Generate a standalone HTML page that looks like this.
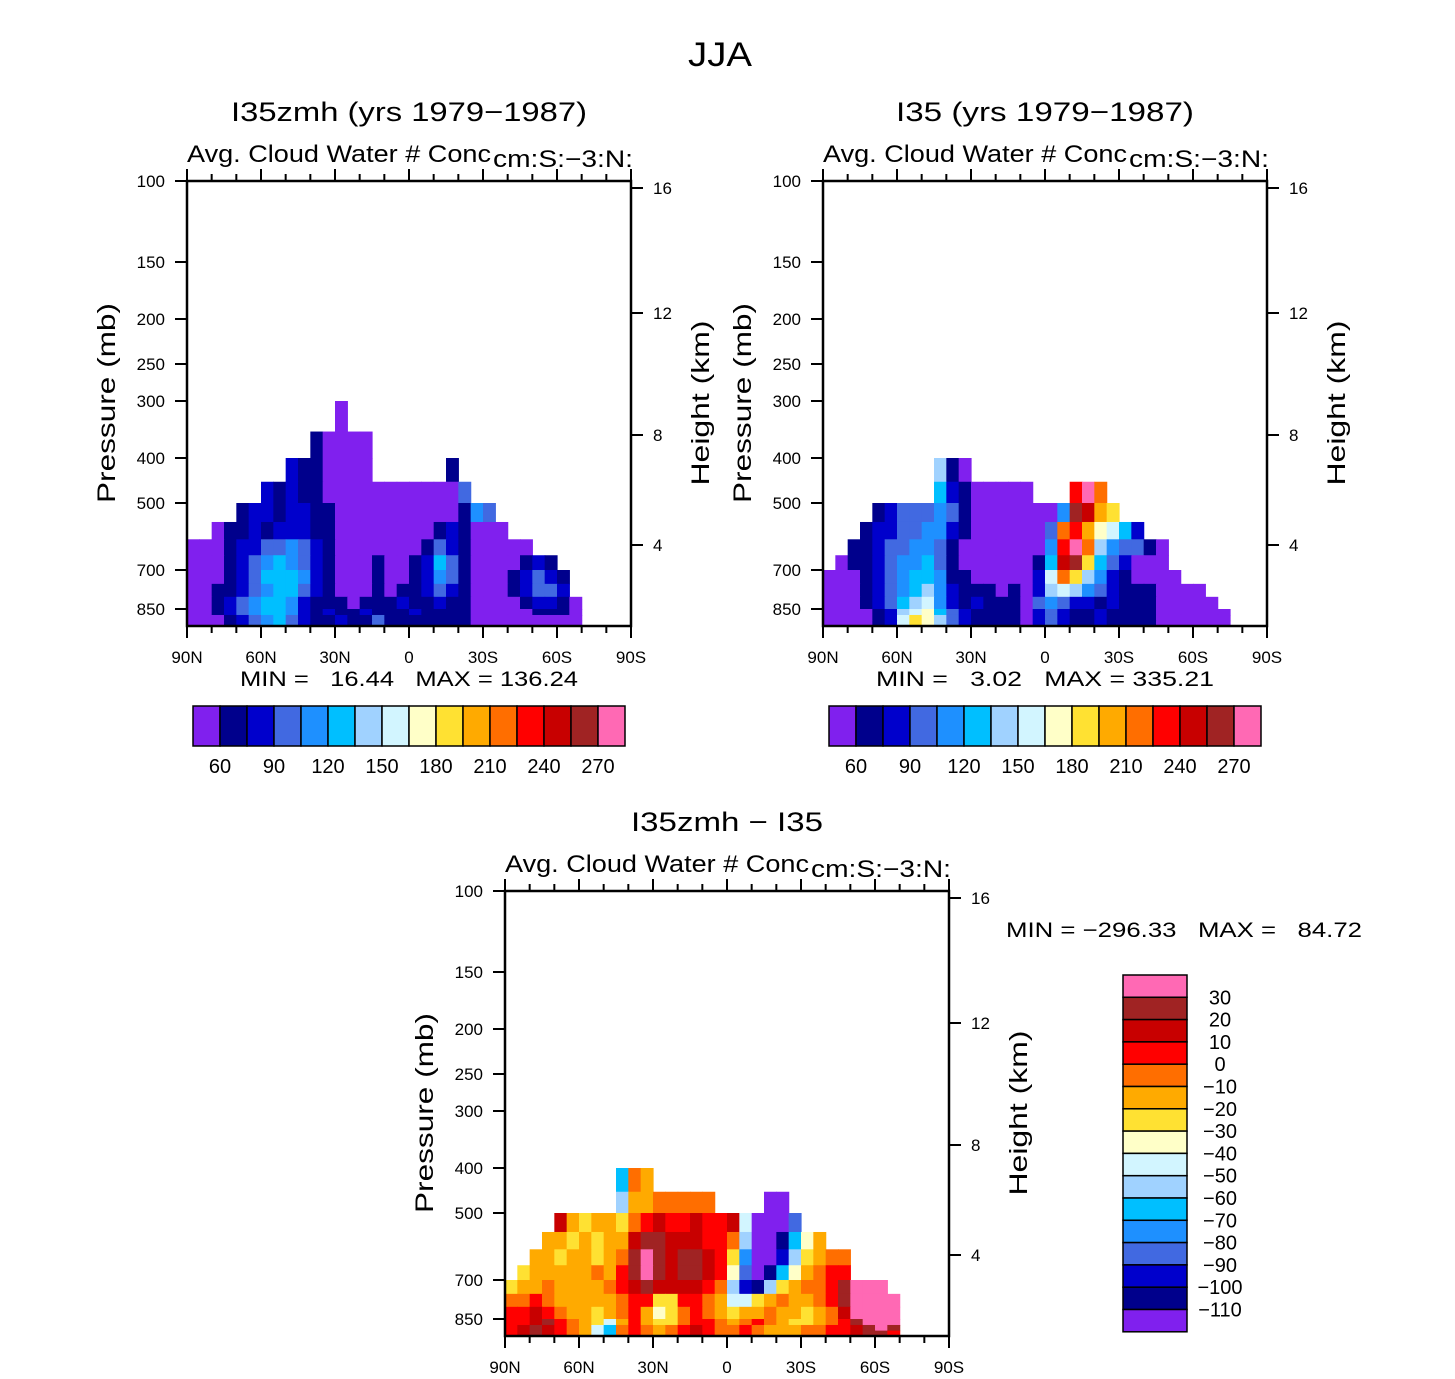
<!DOCTYPE html>
<html><head><meta charset="utf-8">
<style>
html,body{margin:0;padding:0;background:#fff;}
svg{display:block;font-family:"Liberation Sans",sans-serif;}
</style></head>
<body>
<svg id="fig" xmlns="http://www.w3.org/2000/svg" width="1455" height="1379" viewBox="0 0 1455 1379">
<text x="720" y="66" font-size="34" text-anchor="middle" textLength="64" lengthAdjust="spacingAndGlyphs">JJA</text>
</svg>
<script>
// ---- data ----
const pressureLevels = [300,350,400,450,500,550,600,650,700,750,800,850,900,950,1000];
const pressureTicks = [100,150,200,250,300,400,500,700,850];
const heightTicks = [16,12,8,4];
const latTicks = ["90N","60N","30N","0","30S","60S","90S"];
const levelsTop = [60,90,120,150,180,210,240,270];
const levelsDiff = [30,20,10,0,-10,-20,-30,-40,-50,-60,-70,-80,-90,-100,-110];
const palette = ["#8020EE","#00008C","#0000CC","#4169E1","#1E90FF","#00BFFF","#A0D2FF","#D2F5FF","#FFFFC8","#FFE132","#FFAA00","#FF6E00","#FF0000","#C80000","#A02323","#FF69B4"];

// grid rows (300mb..1000mb bands), 36 latitude bins of 5deg each, hex = colour level, '.' = missing
const fieldA = [
"............0.......................",
".........."+"10000"+".....................",
"........"+"2110000"+"......"+"1"+"..............",
"......"+"21211"+"00000000000"+"3"+".............",
"...."+"12212211"+"0000000000"+"143"+"...........",
".."+"0112122211"+"00000000"+"121000"+"..........",
"0001223343210"+"000000"+"1321"+"00000"+"........",
"0001234543210"+"001001"+"25310000"+"121"+"......",
"0001235554210"+"001001"+"2431000"+"12321"+".....",
"0011234553210"+"001011"+"2321000"+"12332"+".....",
"0012345542111"+"011121"+"1211000"+"012210"+"....",
"0012345542121"+"121112"+"1111000"+"001110"+"....",
"0001234532112"+"113111"+"1111000"+"000000"+"....",
"0001234532112"+"113111"+"1111000"+"000000"+"...."
];
const fieldB = [
"....................................",
"....................................",
"........."+"610"+"........................",
"........."+"521"+"00000"+"..."+"cfb"+".............",
"...."+"12333431"+"00000"+"004"+"eda9"+"............",
"..."+"12233442"+"1"+"000000"+"3bca8752"+"..........",
".."+"112334431"+"0"+"00000"+"0"+"4cfb6433"+"10"+"........",
"."+"0112344531"+"0"+"00000"+"1"+"5de95320"+"00"+"........",
"00012345541"+"1"+"00000"+"2"+"7b964210"+"000"+".......",
"00012345642"+"1"+"11010"+"2"+"67643211"+"10000"+".....",
"00012356742"+"1"+"21110"+"3"+"43221211"+"100000"+"....",
"00001267853"+"2"+"11110"+"2"+"32112111"+"1000000"+"...",
"00001279863"+"2"+"11110"+"2"+"32112111"+"1000000"+"...",
"00001279863"+"2"+"11110"+"2"+"32112111"+"1000000"+"..."
];
const fieldDiff = [
"....................................",
"....................................",
"........."+"5ba"+"........................",
"........."+"6aa"+"bbbbb"+"...."+"00"+".............",
"...."+"da9aa"+"9bc"+"dccdc"+"cd70003"+"............",
"..."+"aa9a9aa"+"deeddd"+"ccb6"+"00158a"+"..........",
".."+"aa9aa9ab"+"efedeed"+"c94"+"00269abb"+"........",
"."+"9aaaaaba"+"c"+"efedeed"+"c83"+"0158abcc"+"........",
"9aabaaaab"+"cdeddddc"+"b62"+"169abbcefff"+".....",
"bbcbaaaaa"+"bcc99ccb"+"a77"+"9abaabceffff"+"....",
"ccdcbaa9a"+"bca89bcb"+"a9a"+"abaa9abdffff"+"....",
"ccdecba97"+"aca99bcc"+"bab"+"cba99abcefff"+"....",
"cdedcba75"+"bcbabcdc"+"bbc"+"baaabbccdefe"+"....",
"cdedcba75"+"bcbabcdc"+"bbc"+"baaabbccdeec"+"...."
];
const minMaxA = ["16.44","136.24"];
const minMaxB = ["3.02","335.21"];
const minMaxDiff = ["\u2212296.33","84.72"];

// ---- layout / helpers ----
const NS = "http://www.w3.org/2000/svg";
const svg = document.getElementById("fig");
const W = 444, H = 445;
const pTickY = [0,81,138,183,220,277,322,389,428];
const hTickY = [7,132,254,364];
function pY(p){
  const ps=[100,150,200,250,300,400,500,700,850,1000], ys=[0,81,138,183,220,277,322,389,428,445];
  if(p<=ps[0]) return 0;
  for(let i=0;i<ps.length-1;i++){
    if(p<=ps[i+1]){const t=Math.log(p/ps[i])/Math.log(ps[i+1]/ps[i]);return ys[i]+t*(ys[i+1]-ys[i]);}
  }
  return 445;
}
function latX(i){return i*W/36;}
function el(tag,attrs,parent){const e=document.createElementNS(NS,tag);for(const k in attrs)e.setAttribute(k,attrs[k]);(parent||svg).appendChild(e);return e;}
function txt(s,attrs,parent){const e=el("text",attrs,parent);e.textContent=s;return e;}

function drawPanel(x0,y0,field,title,titleLen,name){
  const g=el("g",{});
  
  
  const cw=W/36;
  for(let r=0;r<field.length;r++){
    const row=field[r];
    const ya=y0+pY(pressureLevels[r]), yb=y0+pY(pressureLevels[r+1]);
    for(let c=0;c<36;c++){
      const ch=row[c];
      if(!ch||ch===".") continue;
      const rc=el("rect",{x:(x0+latX(c)).toFixed(2),y:ya.toFixed(2),width:(cw+0.6).toFixed(2),height:(yb-ya+0.6).toFixed(2),fill:palette[parseInt(ch,16)]},g);
      
      
    }
  }
  const box=el("rect",{x:x0,y:y0,width:W,height:H,fill:"none",stroke:"#000","stroke-width":2.5},g);
  
  
  for(let d=0;d<=18;d++){
    const x=x0+d*W/18, major=d%3===0, len=major?12:7;
    el("line",{x1:x,y1:y0+H,x2:x,y2:y0+H+len,stroke:"#000","stroke-width":2},g);
    el("line",{x1:x,y1:y0,x2:x,y2:y0-len,stroke:"#000","stroke-width":2},g);
  }
  latTicks.forEach((s,i)=>{
    const t=txt(s,{x:x0+i*W/6,y:y0+H+37,"font-size":17,"text-anchor":"middle"},g);
    
    
  });
  pressureTicks.forEach((p,i)=>{
    const y=y0+pTickY[i];
    el("line",{x1:x0-12,y1:y,x2:x0,y2:y,stroke:"#000","stroke-width":2},g);
    const t=txt(String(p),{x:x0-22,y:y+6,"font-size":17,"text-anchor":"end"},g);
    
    
  });
  heightTicks.forEach((h,i)=>{
    const y=y0+hTickY[i];
    el("line",{x1:x0+W,y1:y,x2:x0+W+12,y2:y,stroke:"#000","stroke-width":2},g);
    const t=txt(String(h),{x:x0+W+22,y:y+6,"font-size":17},g);
    
    
  });
  const yt=txt("Pressure  (mb)",{x:0,y:0,"font-size":25,"text-anchor":"middle",textLength:200,lengthAdjust:"spacingAndGlyphs",transform:`translate(${x0-72},${y0+222}) rotate(-90)`},g);
  
  
  const ht=txt("Height  (km)",{x:0,y:0,"font-size":25,"text-anchor":"middle",textLength:165,lengthAdjust:"spacingAndGlyphs",transform:`translate(${x0+W+78},${y0+222}) rotate(-90)`},g);
  
  
  const tt=txt(title,{x:x0+W/2,y:y0-60,"font-size":27,"text-anchor":"middle",textLength:titleLen,lengthAdjust:"spacingAndGlyphs"},g);
  
  
  const st=txt("Avg. Cloud Water # Conc",{x:x0,y:y0-19,"font-size":24,textLength:304,lengthAdjust:"spacingAndGlyphs"},g);
  
  
  const ut=txt("cm:S:\u22123:N:",{x:x0+306,y:y0-14,"font-size":24,textLength:140,lengthAdjust:"spacingAndGlyphs"},g);
  
  
  return g;
}

function hColorbar(x0,y0,mm,name){
  const g=el("g",{});
  
  
  const mt=txt(`MIN =   ${mm[0]}   MAX = ${mm[1]}`,{x:x0+216,y:y0-20,"font-size":21,"text-anchor":"middle",textLength:338,lengthAdjust:"spacingAndGlyphs",style:"white-space:pre"},g);
  
  
  for(let i=0;i<16;i++){
    const r=el("rect",{x:x0+i*27,y:y0,width:27,height:40,fill:palette[i],stroke:"#000","stroke-width":1.5},g);
    
    
  }
  levelsTop.forEach((v,k)=>{
    const t=txt(String(v),{x:x0+27*(2*k+1),y:y0+67,"font-size":20,"text-anchor":"middle"},g);
    
    
  });
}

drawPanel(187,181,fieldA,"I35zmh  (yrs  1979\u22121987)",356,"control");
hColorbar(193,706,minMaxA,"control");
drawPanel(823,181,fieldB,"I35  (yrs  1979\u22121987)",298,"experiment");
hColorbar(829,706,minMaxB,"experiment");
drawPanel(505,891,fieldDiff,"I35zmh  \u2212  I35",192,"difference");

(function(){
  const x0=1123,y0=975,bh=22.3;
  const g=el("g",{});
  
  
  const mt=txt(`MIN = ${minMaxDiff[0]}   MAX =   ${minMaxDiff[1]}`,{x:1006,y:937,"font-size":21,textLength:356,lengthAdjust:"spacingAndGlyphs",style:"white-space:pre"},g);
  
  
  for(let k=0;k<16;k++){
    const r=el("rect",{x:x0,y:y0+k*bh,width:64,height:bh,fill:palette[15-k],stroke:"#000","stroke-width":1.5},g);
    
    
  }
  levelsDiff.forEach((v,k)=>{
    const s=v<0?"\u2212"+Math.abs(v):String(v);
    const t=txt(s,{x:1220,y:y0+(k+1)*bh+7,"font-size":20,"text-anchor":"middle"},g);
    
    
  });
})();
</script>
</body></html>
